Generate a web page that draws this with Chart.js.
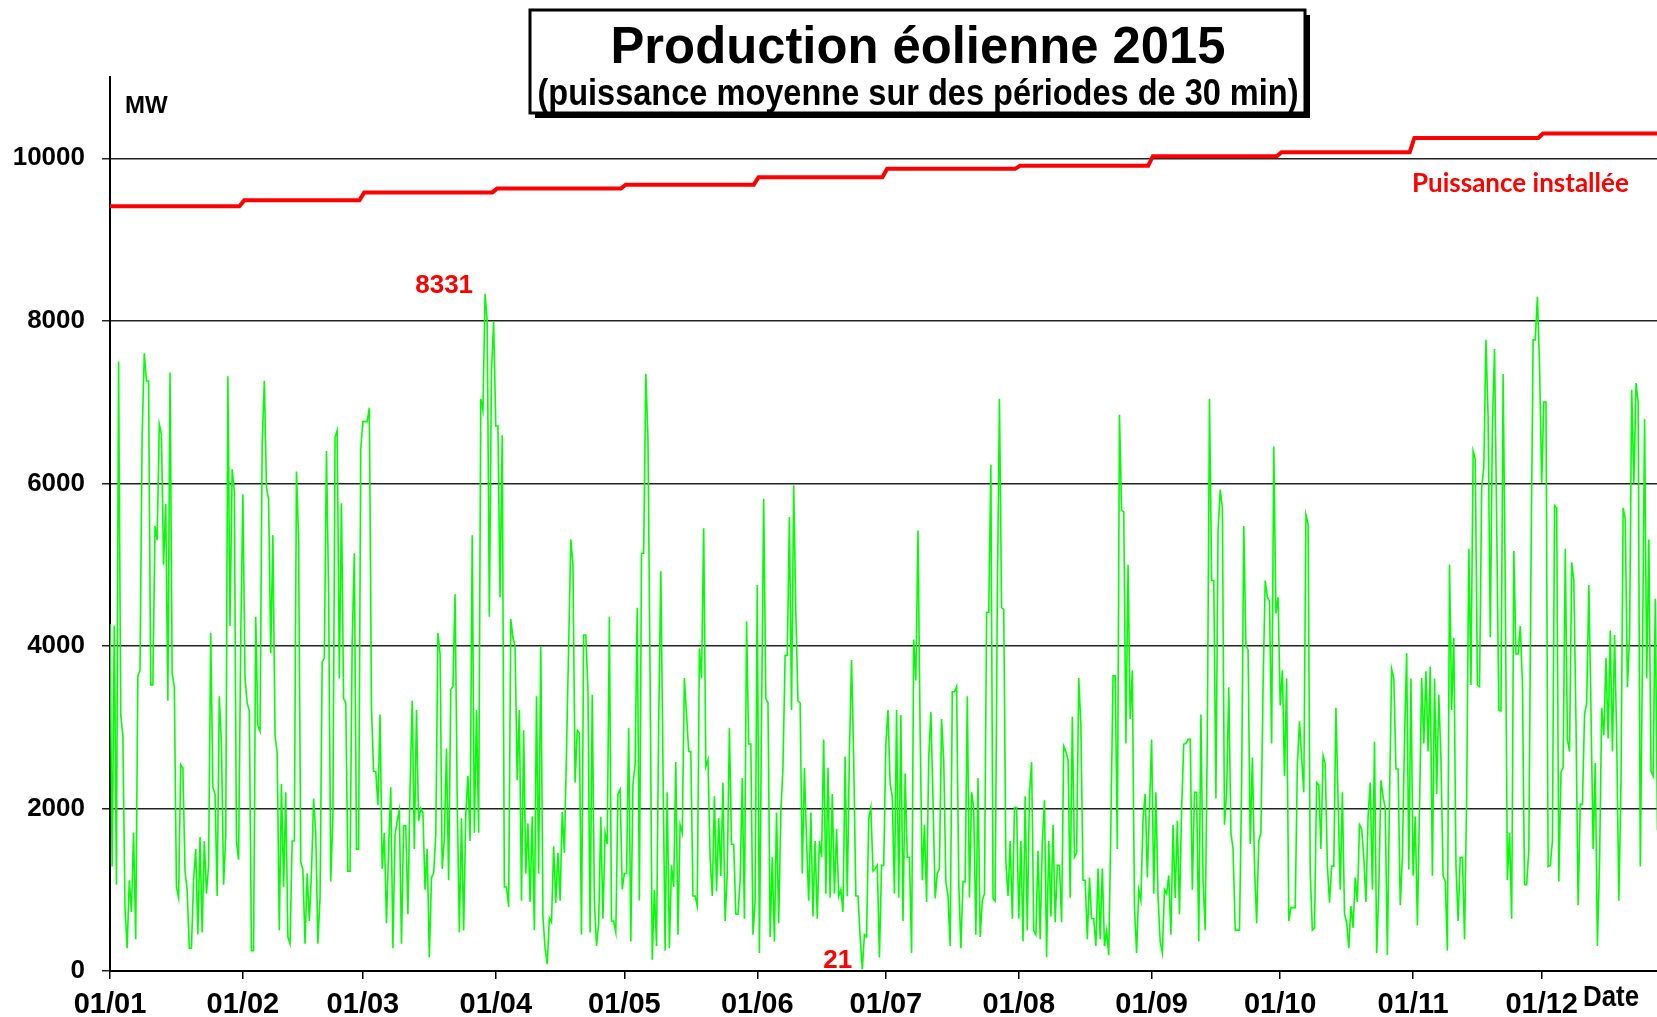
<!DOCTYPE html>
<html>
<head>
<meta charset="utf-8">
<script src="https://cdn.jsdelivr.net/npm/chart.js@4.4.1/dist/chart.umd.min.js"></script>
<style>
    html, body { margin: 0; padding: 0; background: #fff; overflow: hidden; }
    #wrap { width: 1657px; height: 1017px; position: relative; }
</style>
</head>
<body>
<div id="wrap"><canvas id="windChart"></canvas></div>
<script>
// Month ticks (x axis, day of year 2015)
const monthLabels = ["01/01", "01/02", "01/03", "01/04", "01/05", "01/06", "01/07", "01/08", "01/09", "01/10", "01/11", "01/12"];
const monthStartDays = [0, 31, 59, 90, 120, 151, 181, 212, 243, 273, 304, 334];
const yTickValues = [0, 2000, 4000, 6000, 8000, 10000];

// Installed capacity (MW), one value per month
const installedMW = [9410, 9482, 9580, 9627, 9675, 9766, 9870, 9909, 10026, 10075, 10250, 10305];

// Wind production (MW), every half day, month by month
const prodStepDays = 0.5;
const prodJan = [4270, 1285, 4250, 1060, 7500, 3157, 2900, 782, 280, 1117, 726, 1704, 390, 3630, 3700, 6590, 7600, 7260, 7260, 3520,
    3520, 5475, 5300, 6730, 6600, 5000, 5750, 3324, 7363, 3660, 3500, 1034, 900, 2540, 2500, 1229, 1000, 280, 280, 1117,
    1500, 450, 1650, 475, 1600, 950, 1300, 4162, 2262, 2180, 922, 3380, 2800, 1061, 1650, 7318, 4246, 6173, 5900, 1592, 1369, 4078];
const prodFeb = [5866, 3600, 3300, 3200, 251, 251, 4358, 3017, 2950, 6480, 7263, 5950, 5800, 3911, 5363, 2900, 2682, 503, 2300, 1030,
    2200, 419, 335, 1600, 1600, 6146, 5300, 1341, 1250, 335, 1200, 615, 1200, 2123, 1700, 335, 900, 3800, 3850, 6397,
    4637, 1100, 1900, 6565, 6650, 3600, 5755, 3352, 3300, 1229, 1229, 4050, 5140, 1500, 1500, 6425];
const prodMar = [6760, 6760, 6760, 6928, 3240, 2458, 2458, 2039, 3157, 1257, 1700, 587, 1500, 2262, 280, 1676, 1843, 1983, 335, 1788,
    1788, 700, 2262, 3324, 1500, 3212, 1843, 2000, 1950, 1000, 1500, 167, 1150, 1200, 1676, 4162, 3900, 1257, 1620, 2738,
    1117, 3464, 3500, 4637, 2123, 475, 1880, 500, 1927, 2402, 1600, 5363, 1700, 3212, 1700, 7040, 6900, 8331, 7990, 4358, 7375, 7990];
const prodApr = [6704, 6704, 4600, 6593, 1034, 1034, 788, 4330, 4100, 4000, 2347, 3212, 866, 2961, 1200, 1816, 850, 1900, 503, 3380,
    1200, 4000, 670, 280, 84, 650, 600, 1536, 838, 1453, 866, 1955, 1453, 2710, 4000, 5308, 5000, 2318, 2961, 2930,
    450, 4134, 4134, 3464, 475, 3400, 866, 307, 587, 1899, 642, 1700, 1560, 4358, 615, 615, 475, 2179, 2235, 1005];
const prodMay = [1200, 1200, 2989, 363, 2300, 2542, 4470, 866, 5140, 5140, 7347, 6565, 3600, 140, 1000, 307, 3045, 4917, 2570, 251,
    2200, 280, 1300, 1034, 2570, 447, 1800, 1700, 3604, 3157, 2700, 2700, 922, 922, 800, 3967, 3600, 5447, 2514, 2600,
    1400, 922, 2150, 980, 1883, 1168, 2318, 615, 1200, 2989, 1560, 1560, 700, 698, 1100, 2374, 643, 4302, 2793, 2793, 447, 866];
const prodJun = [4749, 223, 3100, 5810, 3352, 3300, 419, 1400, 363, 1950, 587, 1950, 2514, 3883, 3883, 5587, 3212, 5978, 4400, 3324,
    3300, 1201, 2500, 1600, 866, 1950, 670, 1600, 642, 1600, 1400, 2849, 950, 2500, 900, 2179, 950, 1750, 920, 1000,
    727, 2640, 920, 2700, 3827, 2600, 922, 922, 419, 21, 447, 420, 1872, 2011, 1229, 1257, 1300, 167, 1300, 1300];
const prodJul = [2793, 3212, 2300, 2150, 950, 3212, 900, 3150, 615, 2430, 1400, 1400, 223, 4078, 3576, 5419, 2900, 1117, 1800, 850,
    2626, 3185, 2100, 894, 1200, 1257, 3100, 2600, 1100, 922, 307, 3436, 3436, 3500, 1100, 280, 1100, 1100, 3380, 900,
    2200, 2000, 447, 2374, 420, 866, 950, 4414, 4414, 6230, 894, 860, 4581, 7040, 4470, 4450, 1341, 922, 1600, 643, 2011, 2011];
const prodAug = [643, 1600, 363, 2150, 500, 2180, 2570, 500, 447, 1480, 391, 1600, 2100, 168, 1600, 670, 1800, 600, 1300, 1300,
    600, 2766, 2700, 2600, 900, 3129, 1400, 1450, 3604, 3017, 1117, 1117, 391, 1150, 643, 643, 307, 1260, 391, 1260,
    307, 500, 196, 1800, 3631, 3631, 1500, 6844, 5671, 5650, 2800, 5000, 3100, 3700, 782, 223, 1000, 873, 1872, 2179, 1150, 2000];
const prodSep = [2849, 950, 2200, 900, 363, 223, 1000, 950, 1174, 447, 1800, 900, 1850, 700, 2000, 2793, 2800, 2850, 2850, 1000,
    2200, 2200, 363, 3157, 1100, 503, 2900, 7040, 4805, 4805, 2123, 5419, 5922, 5700, 1800, 2200, 3492, 1700, 1500, 500,
    503, 503, 2300, 5475, 4000, 3950, 1564, 2626, 1300, 587, 1600, 1700, 3500, 4805, 4600, 4550, 2800, 6453, 4400, 4600];
const prodOct = [3268, 3700, 2400, 3600, 615, 780, 780, 780, 2542, 3073, 2626, 2200, 5615, 5500, 1229, 503, 530, 2318, 2290, 1500,
    2650, 2550, 1300, 840, 1290, 1290, 3240, 2100, 1000, 2200, 700, 600, 280, 800, 530, 1150, 850, 1800, 1750, 1400,
    850, 1900, 2318, 1000, 2821, 223, 1000, 2346, 2150, 2000, 196, 2123, 3715, 3600, 2486, 2486, 810, 1400, 2849, 3911, 1250, 3600];
const prodNov = [1173, 1900, 559, 2000, 3604, 2800, 3687, 2700, 3743, 1173, 3600, 2179, 3400, 2600, 1173, 1100, 251, 5000, 3212, 4100,
    1300, 615, 1400, 1400, 391, 2179, 5196, 3520, 6397, 6300, 3520, 3500, 5950, 6200, 7766, 6816, 4106, 6700, 7654, 5500,
    3212, 3200, 7347, 4750, 1117, 1700, 643, 5168, 3900, 3900, 4246, 3550, 1061, 1061, 1500, 4972, 7766, 7766, 8296, 7450];
const prodDec = [6006, 7000, 7000, 1285, 1300, 1600, 5727, 5700, 1100, 2450, 2500, 5196, 2850, 2700, 5028, 4800, 3050, 810, 2050, 2050,
    3157, 3300, 4749, 3200, 1500, 2560, 307, 1340, 3240, 2900, 3855, 2860, 4190, 2700, 4134, 2850, 866, 2300, 5699, 5560,
    3492, 4100, 7152, 6000, 7235, 7000, 1285, 3800, 6788, 3600, 5308, 2460, 2400, 4581, 1732];

const xMaxDay = 360.9; // the original picture is cut just before the end of December

// Build the point lists
const prodAll = [].concat(prodJan, prodFeb, prodMar, prodApr, prodMay, prodJun,
    prodJul, prodAug, prodSep, prodOct, prodNov, prodDec);
const prodPoints = prodAll.map((v, i) => ({ x: i * prodStepDays, y: v }));

const installedPoints = [];
installedMW.forEach((v, m) => {
    const start = m === 0 ? 0 : monthStartDays[m] + 0.3;
    const end = m < 11 ? monthStartDays[m + 1] - 0.8 : 365;
    installedPoints.push({ x: start, y: v }, { x: end, y: v });
});

const boldArial = "'Liberation Sans', Arial, sans-serif";
const narrowArial = "'Liberation Sans Narrow', 'Liberation Sans', Arial, sans-serif";

// Title box, axis captions and min / max labels
const decorPlugin = {
    id: "decor",
    afterDraw(chart) {
        const ctx = chart.ctx;
        const xs = chart.scales.x;
        const ys = chart.scales.y;
        ctx.save();

        // title box with shadow
        ctx.fillStyle = "#000";
        ctx.fillRect(535, 15, 775, 103);
        ctx.fillStyle = "#fff";
        ctx.fillRect(530, 10, 775, 103);
        ctx.lineWidth = 3;
        ctx.strokeStyle = "#000";
        ctx.strokeRect(530, 10, 775, 103);

        ctx.fillStyle = "#000";
        ctx.textAlign = "center";
        ctx.textBaseline = "middle";
        ctx.font = "bold 52px " + boldArial;
        ctx.fillText("Production éolienne 2015", 918, 49, 615);
        ctx.font = "bold 37px " + boldArial;
        ctx.fillText("(puissance moyenne sur des périodes de 30 min)", 918, 95, 761);

        // unit and axis caption
        ctx.textAlign = "left";
        ctx.font = "bold 24px " + boldArial;
        ctx.fillText("MW", 125, 106);
        ctx.font = "bold 30px " + narrowArial;
        ctx.fillText("Date", 1583, 998, 56);

        // installed capacity caption
        ctx.fillStyle = "#ff0000";
        ctx.font = "bold 26px Lato, 'Open Sans', sans-serif";
        ctx.fillText("Puissance installée", 1412, 184, 217);

        // max and min values
        let iMax = 0, iMin = 0;
        prodAll.forEach((v, i) => {
            if (v > prodAll[iMax]) iMax = i;
            if (v < prodAll[iMin]) iMin = i;
        });
        ctx.textAlign = "right";
        ctx.font = "bold 26px " + boldArial;
        ctx.fillText(String(prodAll[iMax]), xs.getPixelForValue(iMax * prodStepDays) - 12,
            ys.getPixelForValue(prodAll[iMax]) - 8);
        ctx.fillText(String(prodAll[iMin]), xs.getPixelForValue(iMin * prodStepDays) - 10,
            ys.getPixelForValue(prodAll[iMin]) - 8);

        ctx.restore();
    },
};

new Chart(document.getElementById("windChart"), {
    type: "line",
    data: {
        datasets: [
            {
                label: "Production",
                data: prodPoints,
                borderColor: "#00ff00",
                borderWidth: 1.6,
                pointRadius: 0,
                tension: 0,
            },
            {
                label: "Puissance installée",
                data: installedPoints,
                borderColor: "#ff0000",
                borderWidth: 4,
                pointRadius: 0,
                tension: 0,
            },
        ],
    },
    options: {
        responsive: true,
        maintainAspectRatio: false,
        animation: false,
        layout: { padding: { top: 77, right: 0, left: 0, bottom: 0 } },
        plugins: {
            legend: { display: false },
            tooltip: { enabled: false },
        },
        scales: {
            x: {
                type: "linear",
                min: 0,
                max: xMaxDay,
                afterBuildTicks: (s) => { s.ticks = monthStartDays.map((d) => ({ value: d })); },
                afterFit: (s) => { s.height = 46; },
                ticks: {
                    autoSkip: false,
                    maxRotation: 0,
                    padding: 9,
                    color: "#000",
                    font: { family: narrowArial, size: 29, weight: "bold" },
                    callback: (v) => monthLabels[monthStartDays.indexOf(v)],
                },
                grid: { drawOnChartArea: false, drawTicks: true, tickLength: 8, color: "#000", lineWidth: 1.5 },
                border: { color: "#000", width: 2 },
            },
            y: {
                min: 0,
                max: 11000,
                afterBuildTicks: (s) => { s.ticks = yTickValues.map((v) => ({ value: v })); },
                afterFit: (s) => { s.width = 110; },
                ticks: {
                    padding: 17,
                    color: "#000",
                    font: { family: boldArial, size: 26, weight: "bold" },
                    callback: (v) => String(v),
                },
                grid: { color: "#222", lineWidth: 1.5, tickLength: 8 },
                border: { color: "#000", width: 2 },
            },
        },
    },
    plugins: [decorPlugin],
});
</script>
</body>
</html>
